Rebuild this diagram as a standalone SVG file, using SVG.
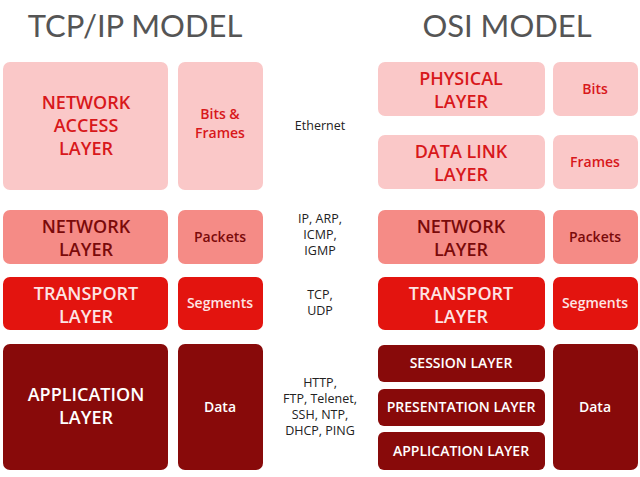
<svg xmlns="http://www.w3.org/2000/svg" width="640" height="477" viewBox="0 0 640 477">
<style>
text{font-family:"Open Sans","Liberation Sans",sans-serif;text-anchor:middle;font-weight:600}
.t{font-family:Lato,"Liberation Sans",sans-serif;font-weight:400;font-size:31px;fill:#555}
.l1 rect{fill:#fac8c8}.l1 text{fill:#d8181b}
.l2 rect{fill:#f58b86}.l2 text{fill:#7a0a0a}
.l3 rect{fill:#e3140f}.l3 text{fill:#fde4e4}
.l4 rect{fill:#880a0a}.l4 text{fill:#fff}
.b{font-size:18px}.s{font-size:14px}.m{font-size:12.5px;fill:#222;font-weight:500}
</style>
<rect width="640" height="477" fill="#fff"/>
<text class="t" x="135" y="37">TCP/IP MODEL</text>
<text class="t" x="507" y="37">OSI MODEL</text>
<g id="tcp-netaccess" class="l1"><rect x="3" y="62" width="165" height="128" rx="7"/><text class="b" x="86" y="109">NETWORK</text><text class="b" x="86" y="132">ACCESS</text><text class="b" x="86" y="155">LAYER</text></g>
<g id="tcp-bits" class="l1"><rect x="178" y="62" width="85" height="128" rx="7"/><text class="s" x="220" y="119">Bits &amp;</text><text class="s" x="220" y="138">Frames</text></g>
<g id="tcp-network" class="l2"><rect x="3" y="210" width="165" height="54" rx="7"/><text class="b" x="86" y="233">NETWORK</text><text class="b" x="86" y="256">LAYER</text></g>
<g id="tcp-packets" class="l2"><rect x="178" y="210" width="85" height="54" rx="7"/><text class="s" x="220" y="242">Packets</text></g>
<g id="tcp-transport" class="l3"><rect x="3" y="277" width="165" height="53" rx="7"/><text class="b" x="86" y="300">TRANSPORT</text><text class="b" x="86" y="323">LAYER</text></g>
<g id="tcp-segments" class="l3"><rect x="178" y="277" width="85" height="53" rx="7"/><text class="s" x="220" y="308">Segments</text></g>
<g id="tcp-application" class="l4"><rect x="3" y="344" width="165" height="126" rx="7"/><text class="b" x="86" y="401">APPLICATION</text><text class="b" x="86" y="424">LAYER</text></g>
<g id="tcp-data" class="l4"><rect x="178" y="344" width="85" height="126" rx="7"/><text class="s" x="220" y="412">Data</text></g>
<g id="protocols">
<text class="m" x="320" y="130">Ethernet</text>
<text class="m" x="320" y="223">IP, ARP,</text><text class="m" x="320" y="239">ICMP,</text><text class="m" x="320" y="255">IGMP</text>
<text class="m" x="320" y="299">TCP,</text><text class="m" x="320" y="315">UDP</text>
<text class="m" x="320" y="387">HTTP,</text><text class="m" x="320" y="403">FTP, Telenet,</text><text class="m" x="320" y="419">SSH, NTP,</text><text class="m" x="320" y="435">DHCP, PING</text>
</g>
<g id="osi-physical" class="l1"><rect x="378" y="62" width="167" height="54" rx="7"/><text class="b" x="461" y="85">PHYSICAL</text><text class="b" x="461" y="108">LAYER</text></g>
<g id="osi-bits" class="l1"><rect x="553" y="62" width="85" height="54" rx="7"/><text class="s" x="595" y="94">Bits</text></g>
<g id="osi-datalink" class="l1"><rect x="378" y="135" width="167" height="54" rx="7"/><text class="b" x="461" y="158">DATA LINK</text><text class="b" x="461" y="181">LAYER</text></g>
<g id="osi-frames" class="l1"><rect x="553" y="135" width="85" height="54" rx="7"/><text class="s" x="595" y="167">Frames</text></g>
<g id="osi-network" class="l2"><rect x="378" y="210" width="167" height="54" rx="7"/><text class="b" x="461" y="233">NETWORK</text><text class="b" x="461" y="256">LAYER</text></g>
<g id="osi-packets" class="l2"><rect x="553" y="210" width="85" height="54" rx="7"/><text class="s" x="595" y="242">Packets</text></g>
<g id="osi-transport" class="l3"><rect x="378" y="277" width="167" height="53" rx="7"/><text class="b" x="461" y="300">TRANSPORT</text><text class="b" x="461" y="323">LAYER</text></g>
<g id="osi-segments" class="l3"><rect x="553" y="277" width="85" height="53" rx="7"/><text class="s" x="595" y="308">Segments</text></g>
<g id="osi-session" class="l4"><rect x="378" y="345" width="167" height="37" rx="6"/><text class="s" x="461" y="368">SESSION LAYER</text></g>
<g id="osi-presentation" class="l4"><rect x="378" y="389" width="167" height="37" rx="6"/><text class="s" x="461" y="412">PRESENTATION LAYER</text></g>
<g id="osi-application" class="l4"><rect x="378" y="432" width="167" height="38" rx="6"/><text class="s" x="461" y="456">APPLICATION LAYER</text></g>
<g id="osi-data" class="l4"><rect x="553" y="344" width="85" height="126" rx="7"/><text class="s" x="595" y="412">Data</text></g>
<g id="connectors"/>
</svg>
